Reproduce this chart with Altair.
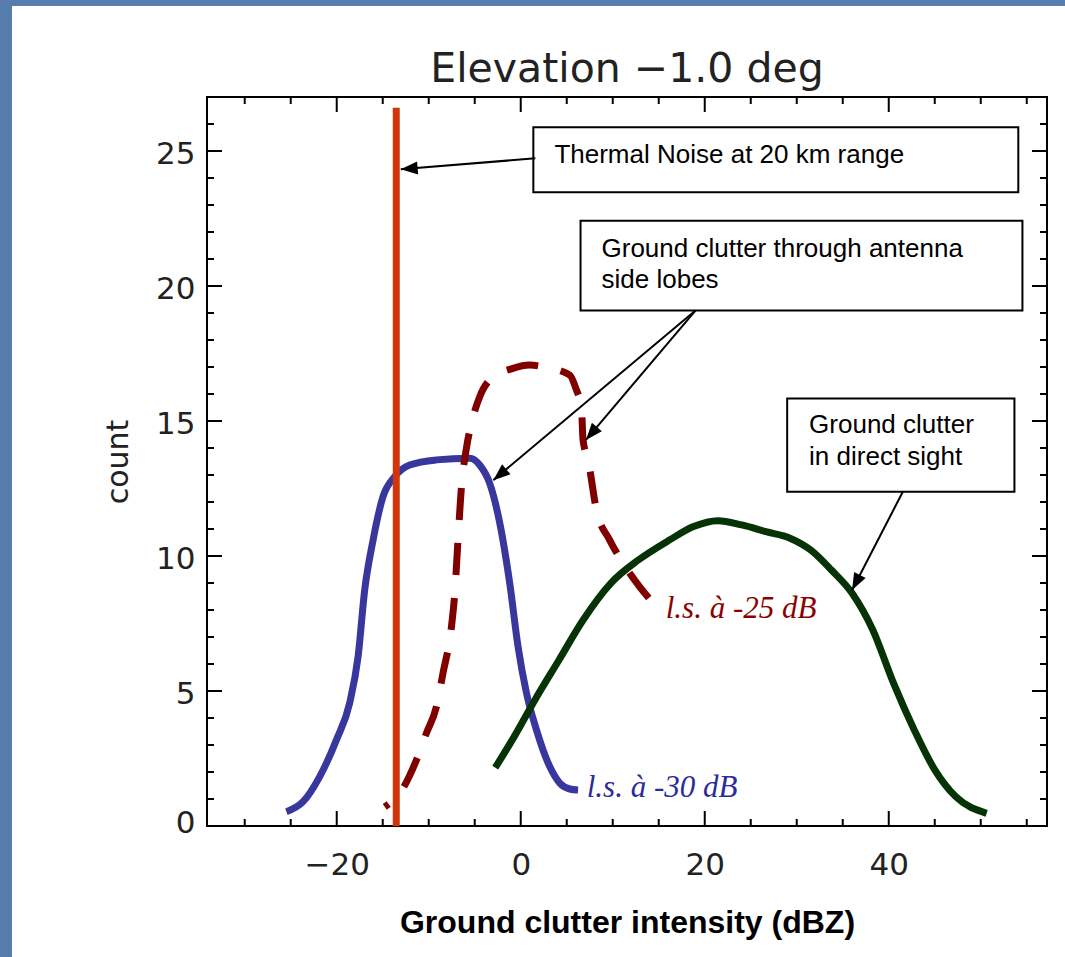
import math
import altair as alt
import pandas as pd

# ---------------- data ----------------
X_DOMAIN = [-34.1, 57.2]
Y_DOMAIN = [0, 27]

blue_x = [-25.47, -23.66, -21.85, -20.03, -18.59, -17.68, -16.96, -16.05, -14.97, -13.70, -12.07, -9.16,
          -5.54, -4.46, -3.37, -2.28, -1.20, -0.29, 0.62, 1.71, 3.15, 4.24, 5.33, 6.23]
blue_y = [0.53, 0.90, 1.83, 3.19, 4.56, 6.27, 8.74, 10.59, 12.20, 12.94, 13.37, 13.56,
          13.62, 13.37, 12.69, 11.22, 9.0, 6.64, 4.93, 3.56, 2.20, 1.59, 1.37, 1.33]

red_x = [-14.78, -12.79, -11.34, -10.25, -9.16, -8.45, -7.53, -7.17, -6.82, -6.45, -5.90, -5.36, -4.46,
         -3.37, -0.84, 0.98, 2.42, 5.33, 6.05, 6.60, 6.77, 7.32, 8.23, 9.67, 11.12, 12.93, 14.75]
red_y = [0.71, 1.40, 2.44, 3.44, 4.42, 5.66, 7.38, 8.62, 10.59, 12.52, 14.0, 14.91, 15.90,
         16.52, 16.95, 17.07, 17.01, 16.70, 16.15, 15.53, 14.30, 13.56, 11.70, 10.59, 9.73, 8.86, 8.12]

green_x = [-2.77, -0.71, 1.54, 4.16, 6.78, 9.78, 12.78, 16.16, 18.78, 21.40, 24.03, 26.65, 29.27,
           31.52, 33.77, 36.02, 38.27, 40.52, 42.77, 45.02, 47.27, 50.64]
green_y = [2.16, 3.31, 4.67, 6.15, 7.63, 8.99, 9.85, 10.59, 11.09, 11.31, 11.15, 10.9, 10.66,
           10.22, 9.48, 8.62, 7.26, 5.29, 3.56, 2.07, 1.09, 0.47]

noise_x = [-13.53]
noise_y = [0.0]
noise_y2 = [26.6]

x_major = [-20, 0, 20, 40]
x_minor = [-30, -25, -15, -10, -5, 5, 10, 15, 25, 30, 35, 45, 50, 55]
y_major = [0, 5, 10, 15, 20, 25]
y_minor = [1, 2, 3, 4, 6, 7, 8, 9, 11, 12, 13, 14, 16, 17, 18, 19, 21, 22, 23, 24, 26]

chart_title = "Elevation \u22121.0 deg"
x_title = "Ground clutter intensity (dBZ)"
y_title = "count"

# annotation boxes (data units)
box_x1 = [1.37, 6.5, 28.96]
box_x2 = [54.08, 54.53, 53.66]
box_y1 = [25.88, 22.42, 15.83]
box_y2 = [23.47, 19.09, 12.38]

note_text = ["Thermal Noise at 20 km range", "Ground clutter through antenna", "side lobes",
             "Ground clutter", "in direct sight"]
note_x = [3.66, 8.78, 8.78, 31.34, 31.34]
note_y = [24.54, 21.09, 19.91, 14.54, 13.37]

arrow_x0 = [1.59, 18.99, 18.99, 41.53]
arrow_y0 = [24.73, 19.09, 19.09, 12.38]
arrow_x1 = [-13.04, -2.98, 7.09, 36.02]
arrow_y1 = [24.32, 12.81, 14.30, 8.74]

curve_label = ["l.s. à -25 dB", "l.s. à -30 dB"]
curve_label_x = [15.76, 7.17]
curve_label_y = [7.70, 1.07]
curve_label_color = ["#8b0000", "#2b2b9c"]

# ---------------- layout ----------------
W, H = 840, 729
PAD_L, PAD_T = 207, 97
PAD_R = 1065 - PAD_L - W
PAD_B = 957 - PAD_T - H
PX_X = W / (X_DOMAIN[1] - X_DOMAIN[0])
PX_Y = H / (Y_DOMAIN[1] - Y_DOMAIN[0])

xs = alt.Scale(domain=X_DOMAIN, nice=False, zero=False)
ys = alt.Scale(domain=Y_DOMAIN, nice=False, zero=False)

LABEL_FONT = "DejaVu Sans"

x_axis = alt.Axis(values=x_major, ticks=False, domain=False, grid=False,
                  labelFont=LABEL_FONT, labelFontSize=31, labelColor="#222",
                  labelPadding=24, format="d",
                  title=x_title, titleFont="Liberation Sans",
                  titleFontSize=32, titleFontWeight="bold", titleColor="black",
                  titleX=W / 2, titleY=106, titleAlign="center", titleBaseline="alphabetic")
y_axis = alt.Axis(values=y_major, ticks=False, domain=False, grid=False,
                  labelFont=LABEL_FONT, labelFontSize=31, labelColor="#222",
                  labelPadding=12, labelFlush=True, labelFlushOffset=10, labelOffset=3,
                  format="d",
                  title=y_title, titleFont=LABEL_FONT, titleFontSize=30,
                  titleFontWeight="normal", titleColor="#222", titleAngle=270,
                  titleX=-89, titleY=H / 2, titleAlign="center", titleBaseline="middle")


def X(f):
    return alt.X(f, type="quantitative", scale=xs, axis=x_axis)


def Y(f):
    return alt.Y(f, type="quantitative", scale=ys, axis=y_axis)


# border decoration of the slide
border = alt.Chart(pd.DataFrame({"k": [0]})).mark_rect(color="#577dac").encode(
    x=alt.value(-PAD_L), x2=alt.value(-PAD_L + 12), y=alt.value(-PAD_T), y2=alt.value(957 - PAD_T)
)
border_top = alt.Chart(pd.DataFrame({"k": [0]})).mark_rect(color="#577dac").encode(
    x=alt.value(-PAD_L), x2=alt.value(1065 - PAD_L), y=alt.value(-PAD_T), y2=alt.value(-PAD_T + 6)
)

title_mark = alt.Chart(pd.DataFrame({"t": [chart_title]})).mark_text(
    font=LABEL_FONT, fontSize=41, color="#222", align="center", baseline="alphabetic").encode(
    x=alt.value(W / 2), y=alt.value(-15), text="t:N")

MAJ, MIN = 15, 7
tick_style = dict(color="black", strokeWidth=2)
xmaj = pd.DataFrame({"v": x_major})
xmin = pd.DataFrame({"v": x_minor})
ymaj = pd.DataFrame({"v": y_major})
ymin = pd.DataFrame({"v": y_minor})

ticks = []
for df, L in ((xmaj, MAJ), (xmin, MIN)):
    ticks.append(alt.Chart(df).mark_rule(**tick_style).encode(
        x=X("v"), y=alt.value(H), y2=alt.value(H - L)))
    ticks.append(alt.Chart(df).mark_rule(**tick_style).encode(
        x=X("v"), y=alt.value(0), y2=alt.value(L)))
for df, L in ((ymaj, MAJ), (ymin, MIN)):
    ticks.append(alt.Chart(df).mark_rule(**tick_style).encode(
        y=Y("v"), x=alt.value(0), x2=alt.value(L)))
    ticks.append(alt.Chart(df).mark_rule(**tick_style).encode(
        y=Y("v"), x=alt.value(W), x2=alt.value(W - L)))

blue = alt.Chart(pd.DataFrame({"x": blue_x, "y": blue_y})).mark_line(
    color="#38379e", strokeWidth=7, interpolate="monotone").encode(
    x=X("x"), y=Y("y"), order="x:Q")
red = alt.Chart(pd.DataFrame({"x": red_x, "y": red_y})).mark_line(
    color="#800000", strokeWidth=7, interpolate="monotone", strokeDash=[32, 23],
    strokeDashOffset=27).encode(
    x=X("x"), y=Y("y"), order="x:Q")
green = alt.Chart(pd.DataFrame({"x": green_x, "y": green_y})).mark_line(
    color="#053305", strokeWidth=7, interpolate="monotone").encode(
    x=X("x"), y=Y("y"), order="x:Q")
noise = alt.Chart(pd.DataFrame({"x": noise_x, "y": noise_y, "y2": noise_y2})).mark_rule(
    color="#cf370a", strokeWidth=7).encode(
    x=X("x"), y=Y("y"), y2="y2")

boxes = alt.Chart(pd.DataFrame({"x1": box_x1, "x2": box_x2, "y1": box_y1, "y2": box_y2})).mark_rect(
    fill="white", stroke="black", strokeWidth=2).encode(
    x=X("x1"), x2="x2", y=Y("y1"), y2="y2")

notes = alt.Chart(pd.DataFrame({"t": note_text, "x": note_x, "y": note_y})).mark_text(
    font="Liberation Sans", fontSize=26, color="black", align="left", baseline="alphabetic").encode(
    x=X("x"), y=Y("y"), text="t:N")

angles = []
for x0, y0, x1, y1 in zip(arrow_x0, arrow_y0, arrow_x1, arrow_y1):
    dx = (x1 - x0) * PX_X
    dy = -(y1 - y0) * PX_Y
    angles.append(math.degrees(math.atan2(dx, -dy)) % 360)

arrow_df = pd.DataFrame({"x0": arrow_x0, "y0": arrow_y0, "x1": arrow_x1, "y1": arrow_y1, "a": angles})
arrow_lines = alt.Chart(arrow_df).mark_rule(color="black", strokeWidth=2).encode(
    x=X("x0"), y=Y("y0"), x2="x1", y2="y1")
arrow_heads = alt.Chart(arrow_df).mark_point(
    shape="M0,0L-0.5,1.3L0.5,1.3Z", filled=True, color="black", opacity=1, size=676,
    strokeWidth=0).encode(
    x=X("x1"), y=Y("y1"),
    angle=alt.Angle("a:Q", scale=None))

labels = alt.Chart(pd.DataFrame({"t": curve_label, "x": curve_label_x, "y": curve_label_y,
                                 "c": curve_label_color})).mark_text(
    font="Liberation Serif", fontStyle="italic", fontSize=31, align="left", baseline="alphabetic").encode(
    x=X("x"), y=Y("y"), text="t:N", color=alt.Color("c:N", scale=None))

chart = alt.layer(
    border, border_top, title_mark, *ticks, blue, red, green, noise, boxes, notes,
    arrow_lines, arrow_heads, labels
).properties(
    width=W, height=H,
    autosize=alt.AutoSizeParams(type="none"),
    padding={"left": PAD_L, "top": PAD_T, "right": PAD_R, "bottom": PAD_B},
    background="white",
).configure_view(stroke="black", strokeWidth=2)

chart.save("out.html", embed_options={"renderer": "svg", "actions": False})
